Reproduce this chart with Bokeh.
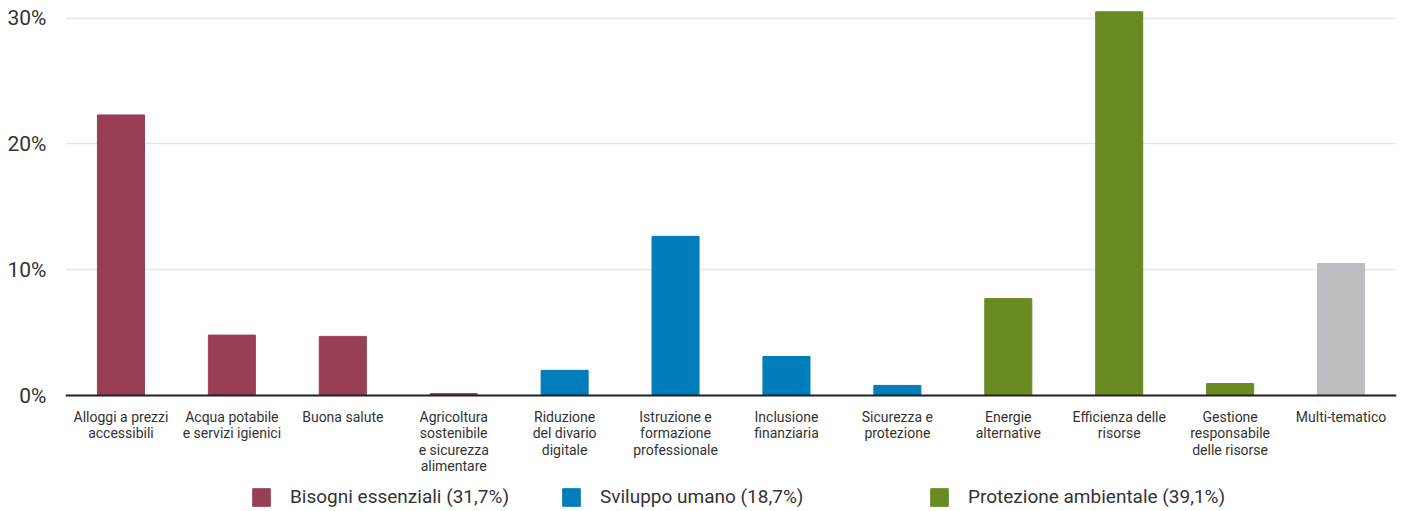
from bokeh.plotting import figure
from bokeh.models import ColumnDataSource, Legend, LegendItem, PrintfTickFormatter, FixedTicker, Span
from bokeh.core.properties import value
from bokeh.embed import file_html
from bokeh.resources import INLINE

categories = ["Alloggi a prezzi accessibili", "Acqua potabile e servizi igienici", "Buona salute",
              "Agricoltura sostenibile e sicurezza alimentare", "Riduzione del divario digitale",
              "Istruzione e formazione professionale", "Inclusione finanziaria", "Sicurezza e protezione",
              "Energie alternative", "Efficienza delle risorse", "Gestione responsabile delle risorse",
              "Multi-tematico"]
tick_labels = ["Alloggi a prezzi\naccessibili", "Acqua potabile\ne servizi igienici", "Buona salute",
               "Agricoltura\nsostenibile\ne sicurezza\nalimentare", "Riduzione\ndel divario\ndigitale",
               "Istruzione e\nformazione\nprofessionale", "Inclusione\nfinanziaria", "Sicurezza e\nprotezione",
               "Energie\nalternative", "Efficienza delle\nrisorse", "Gestione\nresponsabile\ndelle risorse",
               "Multi-tematico"]
values = [22.3, 4.8, 4.7, 0.15, 2.0, 12.65, 3.1, 0.8, 7.7, 30.5, 0.95, 10.5]
groups = ["Bisogni essenziali (31,7%)"] * 4 + ["Sviluppo umano (18,7%)"] * 4 + \
         ["Protezione ambientale (39,1%)"] * 3 + ["Multi-tematico"]
group_colors = {"Bisogni essenziali (31,7%)": "#983F55",
                "Sviluppo umano (18,7%)": "#007DBB",
                "Protezione ambientale (39,1%)": "#6A8A22",
                "Multi-tematico": "#BDBEC1"}
legend_labels = ["Bisogni essenziali (31,7%)", "Sviluppo umano (18,7%)", "Protezione ambientale (39,1%)"]
y_ticks = [0, 10, 20, 30]

FONT = "Roboto"

source = ColumnDataSource(dict(cat=categories, val=values, grp=groups, lab=tick_labels,
                               zero=[0] * len(categories),
                               color=[group_colors[g] for g in groups]))

p = figure(x_range=categories, y_range=(-9.22, 31), width=1407, height=511,
           output_backend="svg", toolbar_location=None,
           min_border_left=65, min_border_right=11, min_border_top=5, min_border_bottom=0)
p.outline_line_color = None

r = p.vbar(x="cat", top="val", width=0.424, color="color", source=source)

p.text(x="cat", y="zero", text="lab", source=source, y_offset=13,
       text_align="center", text_baseline="top", text_line_height=1.04,
       text_font=value(FONT), text_font_size="14px", text_color="#333333")

p.add_layout(Span(location=0, dimension="width", line_color="#222222", line_width=2))

p.xgrid.grid_line_color = None
p.ygrid.grid_line_color = "#E6E6E6"
p.ygrid.grid_line_width = 1.5
p.ygrid.ticker = FixedTicker(ticks=y_ticks)

p.xaxis.visible = False

p.yaxis.ticker = FixedTicker(ticks=y_ticks)
p.yaxis.formatter = PrintfTickFormatter(format="%d%%")
p.yaxis.axis_line_color = None
p.yaxis.major_tick_line_color = None
p.yaxis.minor_tick_line_color = None
p.yaxis.major_label_standoff = 13
p.yaxis.major_label_text_font = FONT
p.yaxis.major_label_text_font_size = "21px"
p.yaxis.major_label_text_color = "#333333"

legend_x = [185, 495, 863]
for i, lab in enumerate(legend_labels):
    idx = groups.index(lab)
    lg = Legend(items=[LegendItem(label=lab, renderers=[r], index=idx)],
                location=(legend_x[i], 3), orientation="horizontal",
                padding=0, margin=0, border_line_color=None, background_fill_alpha=0,
                glyph_width=22, glyph_height=22, label_standoff=18,
                label_text_font=FONT, label_text_font_size="19px", label_text_color="#333333")
    p.add_layout(lg, "center")

open("out.html", "w").write(file_html(p, INLINE))
